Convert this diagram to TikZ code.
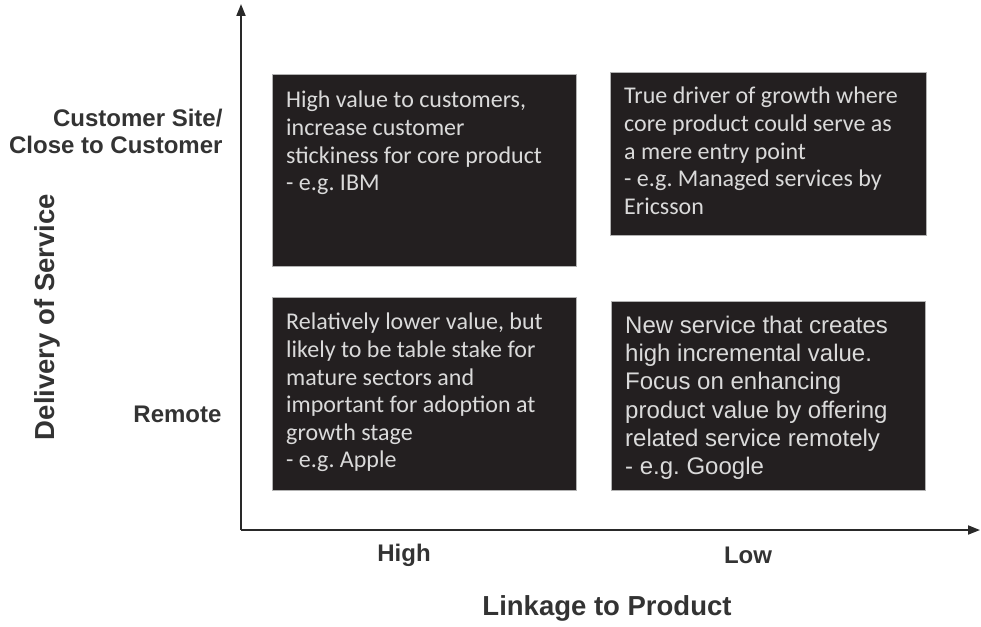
\documentclass[tikz,border=0pt]{standalone}
\usepackage{fontspec}
\usepackage{xcolor}
\usetikzlibrary{arrows.meta}
\setmainfont{Liberation Sans}
\newfontfamily\calib{Carlito}
\frenchspacing

\definecolor{boxfill}{HTML}{231F20}
\definecolor{boxtext}{HTML}{DADADA}
\definecolor{labeltext}{HTML}{333333}

\tikzset{
  quad/.style={draw=gray!60, line width=0.8pt, fill=boxfill, anchor=north west, inner sep=0pt},
  quadtext/.style={anchor=north west, align=left, inner sep=0pt, text=boxtext,
    font=\calib\fontsize{24}{27.6}\selectfont},
  axislabel/.style={text=labeltext, font=\bfseries\fontsize{24}{27}\selectfont},
  axistitle/.style={text=labeltext, font=\bfseries\fontsize{27.5}{30}\selectfont}
}

\begin{document}
\begin{tikzpicture}[x=1pt, y=-1pt]
  \useasboundingbox (0,0) rectangle (981,626);

  % axes
  \coordinate (origin) at (241,530);
  \coordinate (ytop) at (241,4);
  \coordinate (xend) at (980,530);
  \draw[line width=1.8pt, labeltext!80!black, -{Triangle[length=12pt, width=9pt]}] (origin) -- (ytop);
  \draw[line width=1.8pt, labeltext!80!black, -{Triangle[length=12pt, width=9pt]}] (origin) -- (xend);

  % quadrants
  \node[quad, minimum width=304pt, minimum height=192pt] (hiclose) at (272,74) {};
  \node[quad, minimum width=316pt, minimum height=163pt] (loclose) at (610,72) {};
  \node[quad, minimum width=304pt, minimum height=193pt] (hiremote) at (272,297) {};
  \node[quad, minimum width=314pt, minimum height=189pt] (loremote) at (611,301) {};

  \node[quadtext] (hiclose-txt) at (286,91) {High value to customers,\\increase customer\\stickiness for core product\\- e.g. IBM};
  \node[quadtext] (loclose-txt) at (624,87) {True driver of growth where\\core product could serve as\\a mere entry point\\- e.g. Managed services by\\Ericsson};
  \node[quadtext] (hiremote-txt) at (286,313) {Relatively lower value, but\\likely to be table stake for\\mature sectors and\\important for adoption at\\growth stage\\- e.g. Apple};
  \node[quadtext, font=\fontsize{24}{28.2}\selectfont] (loremote-txt) at (625,316) {New service that creates\\high incremental value.\\Focus on enhancing\\product value by offering\\related service remotely\\- e.g. Google};

  % axis labels
  \node[axislabel, align=right, anchor=east] (close) at (226,131) {Customer Site/\\Close to Customer};
  \node[axislabel, anchor=east] (remote) at (225,414) {Remote};
  \node[axistitle, rotate=90] (delivery) at (47,317) {Delivery of Service};
  \node[axislabel] (high) at (404,555) {High};
  \node[axislabel] (low) at (748,555) {Low};
  \node[axistitle] (linkage) at (607,608) {Linkage to Product};
\end{tikzpicture}
\end{document}
